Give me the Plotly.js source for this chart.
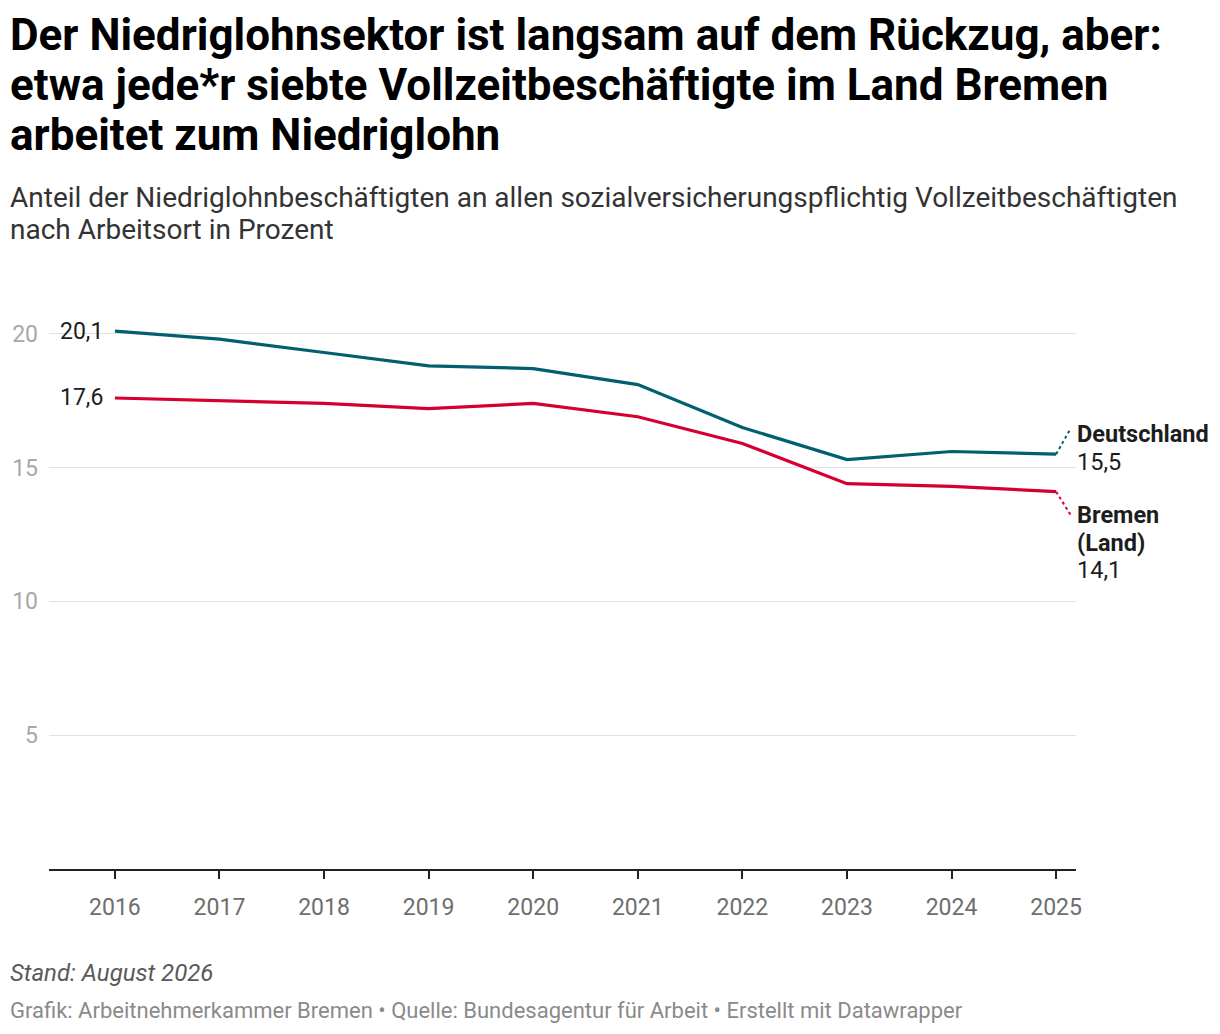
<!DOCTYPE html>
<html>
<head>
<meta charset="utf-8">
<script src="https://cdn.plot.ly/plotly-3.0.1.min.js"></script>
<style>
  html, body { margin: 0; padding: 0; background: #fff; }
  #chart { width: 1220px; height: 1034px; }
</style>
</head>
<body>
<div id="chart"></div>
<script>
// Anteil Niedriglohnbeschäftigte (Vollzeit), in Prozent
var years = [2016, 2017, 2018, 2019, 2020, 2021, 2022, 2023, 2024, 2025];
var deutschland = [20.1, 19.8, 19.3, 18.8, 18.7, 18.1, 16.5, 15.3, 15.6, 15.5];
var bremen = [17.6, 17.5, 17.4, 17.2, 17.4, 16.9, 15.9, 14.4, 14.3, 14.1];
var yTicks = [5, 10, 15, 20];

var titleLines = [
  'Der Niedriglohnsektor ist langsam auf dem Rückzug, aber:',
  'etwa jede*r siebte Vollzeitbeschäftigte im Land Bremen',
  'arbeitet zum Niedriglohn'
];
var subtitleLines = [
  'Anteil der Niedriglohnbeschäftigten an allen sozialversicherungspflichtig Vollzeitbeschäftigten',
  'nach Arbeitsort in Prozent'
];

var colDE = '#00606e';
var colHB = '#d5002f';
var FONT = 'Roboto, "Noto Sans", sans-serif';

function de(v) { return v.toFixed(1).replace('.', ','); }

// pixel row -> paper y (plot spans rows 307..869)
function py(row) { return (869 - row) / 562; }
var leftX = -0.0399;

var last = years.length - 1;

var data = [
  {
    x: years, y: deutschland, type: 'scatter', mode: 'lines',
    name: 'Deutschland', line: {color: colDE, width: 3.2}, hoverinfo: 'skip'
  },
  {
    x: years, y: bremen, type: 'scatter', mode: 'lines',
    name: 'Bremen (Land)', line: {color: colHB, width: 3.2}, hoverinfo: 'skip'
  }
];

var annotations = [];

// title lines
titleLines.forEach(function(t, i) {
  annotations.push({xref: 'paper', yref: 'paper', x: leftX, y: py(35 + i * 50),
    xanchor: 'left', yanchor: 'middle', showarrow: false,
    text: '<b>' + t + '</b>', font: {size: 44, color: '#000000'}});
});
// subtitle lines
subtitleLines.forEach(function(t, i) {
  annotations.push({xref: 'paper', yref: 'paper', x: leftX, y: py(197 + i * 33),
    xanchor: 'left', yanchor: 'middle', showarrow: false,
    text: t, font: {size: 28, color: '#333333'}});
});

// start values
annotations.push(
  {x: years[0], y: deutschland[0], text: de(deutschland[0]), showarrow: false,
   xanchor: 'right', yanchor: 'middle', xshift: -10, font: {size: 23, color: '#1d1d1d'}},
  {x: years[0], y: bremen[0], text: de(bremen[0]), showarrow: false,
   xanchor: 'right', yanchor: 'middle', xshift: -10, font: {size: 23, color: '#1d1d1d'}}
);

// end labels, one annotation per line
function endLabel(yv, lines, shifts) {
  lines.forEach(function(t, i) {
    annotations.push({x: years[last], y: yv, text: t, showarrow: false,
      xanchor: 'left', yanchor: 'middle', xshift: 19, yshift: shifts[i],
      font: {size: 23.5, color: '#1d1d1d'}});
  });
}
endLabel(deutschland[last], ['<b>Deutschland</b>', de(deutschland[last])], [20, -8]);
endLabel(bremen[last], ['<b>Bremen</b>', '<b>(Land)</b>', de(bremen[last])], [-23, -51, -78]);

// footer
annotations.push(
  {xref: 'paper', yref: 'paper', x: leftX, y: py(973), xanchor: 'left', yanchor: 'middle',
   showarrow: false, text: '<i>Stand: August 2026</i>', font: {size: 24, color: '#5a5a5a'}},
  {xref: 'paper', yref: 'paper', x: leftX, y: py(1010), xanchor: 'left', yanchor: 'middle',
   showarrow: false,
   text: 'Grafik: Arbeitnehmerkammer Bremen • Quelle: Bundesagentur für Arbeit • Erstellt mit Datawrapper',
   font: {size: 22, color: '#8a8a8a'}}
);

// dotted connectors from last point to the end labels
var shapes = [
  {type: 'line', xref: 'x', yref: 'y', x0: years[last], y0: deutschland[last],
   x1: years[last] + 0.13, y1: deutschland[last] + 0.9,
   line: {color: colDE, width: 2, dash: 'dot'}},
  {type: 'line', xref: 'x', yref: 'y', x0: years[last], y0: bremen[last],
   x1: years[last] + 0.14, y1: bremen[last] - 0.88,
   line: {color: colHB, width: 2, dash: 'dot'}}
];

var layout = {
  width: 1220,
  height: 1034,
  margin: {l: 49, r: 144, t: 307, b: 165},
  paper_bgcolor: '#ffffff',
  plot_bgcolor: '#ffffff',
  font: {family: FONT, color: '#1d1d1d'},
  showlegend: false,
  xaxis: {
    range: [2015.37, 2025.19],
    tickvals: years,
    ticktext: years.map(String),
    ticks: 'outside', ticklen: 8, tickwidth: 2, tickcolor: '#222',
    showline: true, linecolor: '#222', linewidth: 2,
    showgrid: false, zeroline: false,
    tickfont: {size: 23, color: '#6e6e6e'},
    ticklabelstandoff: 8,
    fixedrange: true
  },
  yaxis: {
    range: [0, 21],
    tickvals: yTicks,
    ticktext: yTicks.map(String),
    ticks: '',
    showline: false, zeroline: false,
    showgrid: true, gridcolor: '#e2e2e2', gridwidth: 1,
    tickfont: {size: 23, color: '#a8a8a8'},
    ticklabelstandoff: 10,
    fixedrange: true
  },
  annotations: annotations,
  shapes: shapes
};

Plotly.newPlot('chart', data, layout, {displayModeBar: false, staticPlot: true});
</script>
</body>
</html>
